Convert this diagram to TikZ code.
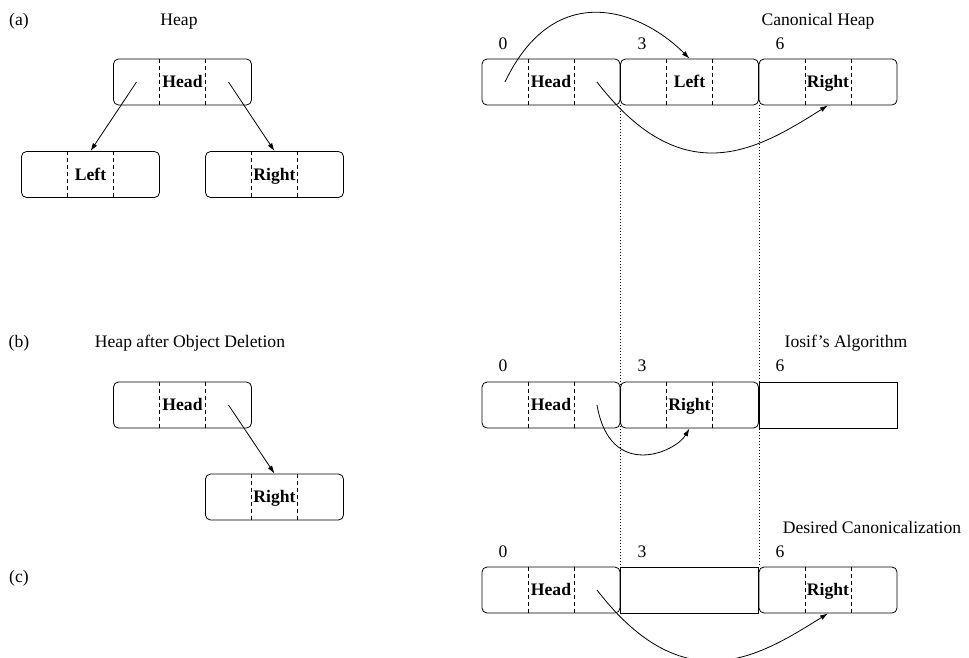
\documentclass[tikz,border=0pt]{standalone}
\usepackage{fontspec}
\setmainfont{Liberation Serif}
\usetikzlibrary{arrows.meta}
\tikzset{
  lbl/.style={inner sep=0pt, text height=11.5pt, text depth=0pt, font=\fontsize{17.6}{21}\selectfont},
  membox/.style={draw, line width=0.8pt, rounded corners=5pt, minimum width=138pt, minimum height=46pt,
     inner sep=0pt, text height=11.5pt, text depth=0pt, font=\fontsize{17.6}{21}\selectfont\bfseries},
  freebox/.style={draw, line width=0.8pt, minimum width=138pt, minimum height=46pt, inner sep=0pt},
  sepline/.style={line width=0.7pt, dash pattern=on 4pt off 3pt},
  ptr/.style={line width=0.8pt, -{Latex[length=8pt,width=5pt]}},
  guide/.style={line width=0.6pt, dash pattern=on 0.8pt off 2.2pt}
}
\newcommand\cellbox[4]{%
  \node[membox] (#1) at (#2,#3) {#4};
  \draw[sepline] ([xshift=-23pt]#1.north) -- ([xshift=-23pt]#1.south);
  \draw[sepline] ([xshift=23pt]#1.north) -- ([xshift=23pt]#1.south);
  \coordinate (#1-l) at ([xshift=-46pt]#1.center);
  \coordinate (#1-r) at ([xshift=46pt]#1.center);
}
\begin{document}
\begin{tikzpicture}[x=1pt,y=-1pt]
\useasboundingbox (0,0) rectangle (969,657);

% ---------- (a) ----------
\node[lbl] (la) at (19,19.5) {(a)};
\node[lbl] (ta) at (179,19.5) {Heap};
\cellbox{hA}{182.5}{82}{Head}
\cellbox{lA}{90.5}{174.5}{Left}
\cellbox{rA}{274.5}{174.5}{Right}
\draw[ptr] (hA-l) -- (lA.north);
\draw[ptr] (hA-r) -- (rA.north);

\node[lbl] (tca) at (818,19.5) {Canonical Heap};
\node[lbl] (n0a) at (503,43.5) {0};
\node[lbl] (n3a) at (642,43.5) {3};
\node[lbl] (n6a) at (780,43.5) {6};
\cellbox{chA}{551}{82}{Head}
\cellbox{clA}{689.5}{82}{Left}
\cellbox{crA}{828}{82}{Right}
\draw[ptr] (chA-l) .. controls +(49.5,-103.5) and +(-49.5,-49.5) .. (clA.north);
\draw[ptr] (chA-r) .. controls +(87.8,113.8) and +(-67.8,42.3) .. (crA.south);

% ---------- (b) ----------
\node[lbl] (lb) at (19,341.5) {(b)};
\node[lbl] (tb) at (190,341.5) {Heap after Object Deletion};
\cellbox{hB}{182.5}{405}{Head}
\cellbox{rB}{274.5}{497}{Right}
\draw[ptr] (hB-r) -- (rB.north);

\node[lbl] (tcb) at (846,341.5) {Iosif's Algorithm};
\node[lbl] (n0b) at (503,366) {0};
\node[lbl] (n3b) at (642,366) {3};
\node[lbl] (n6b) at (780,366) {6};
\cellbox{chB}{551}{405}{Head}
\cellbox{crB}{689.5}{405}{Right}
\node[freebox] (eB) at (828,405) {};
\draw[ptr] (chB-r) .. controls +(13.1,76.1) and +(-13.8,23.7) .. (crB.south);

% ---------- (c) ----------
\node[lbl] (lc) at (19,577) {(c)};
\node[lbl] (tcc) at (872,528) {Desired Canonicalization};
\node[lbl] (n0c) at (503,551.5) {0};
\node[lbl] (n3c) at (642,551.5) {3};
\node[lbl] (n6c) at (780,551.5) {6};
\cellbox{chC}{551}{590}{Head}
\node[freebox] (eC) at (689.5,590) {};
\cellbox{crC}{828}{590}{Right}
\draw[ptr] (chC-r) .. controls +(87.8,113.8) and +(-67.8,42.3) .. (crC.south);

% ---------- guides ----------
\draw[guide] (chA.south east) -- (chC.north east);
\draw[guide] (clA.south east) -- (eC.north east);
\end{tikzpicture}
\end{document}
